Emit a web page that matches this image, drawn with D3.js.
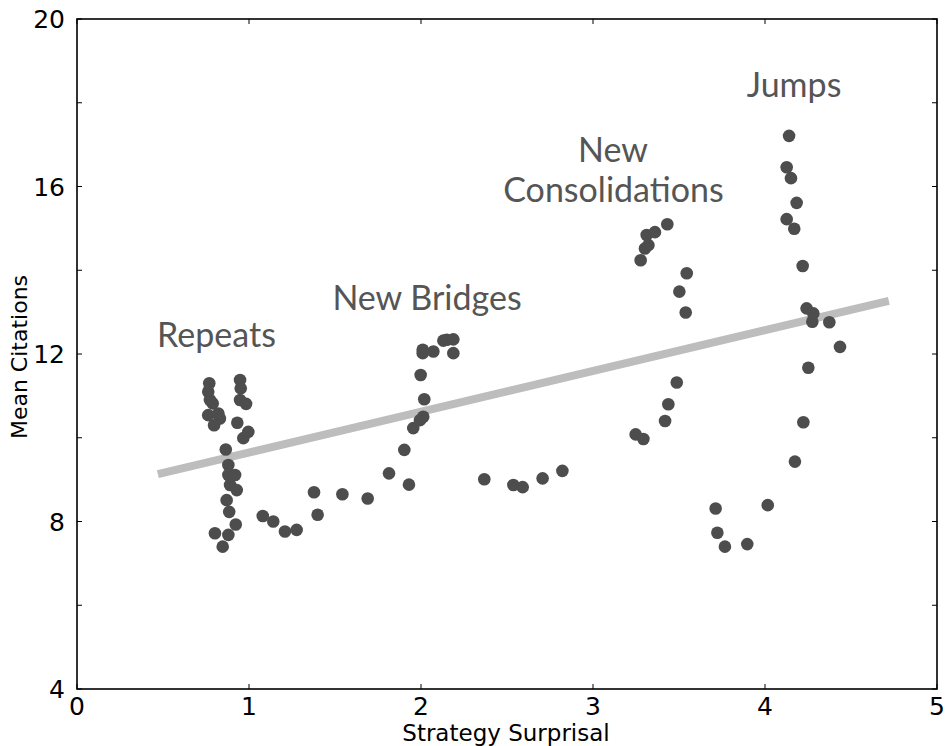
<!DOCTYPE html>
<html lang="en">
<head>
<meta charset="UTF-8">
<title>Strategy Surprisal vs Mean Citations</title>
<script src="https://d3js.org/d3.v7.min.js"></script>
<style>
    body { margin: 0; background: #fff; }
    svg { display: block; }
    .tick-label { font: 25px 'DejaVu Sans', sans-serif; fill: #000; }
    .axis-title { font: 23px 'DejaVu Sans', sans-serif; fill: #000; }
    .note { font-family: 'Lato', sans-serif; fill: #555; }
</style>
</head>
<body>
<svg width="946" height="746"></svg>
<script>
// points
var surprisal = [
    0.769, 0.763, 0.773, 0.789, 0.763, 0.822, 0.831, 0.797, 0.948, 0.952,
    0.948, 0.983, 0.932, 0.996, 0.967, 0.865, 0.880, 0.880, 0.919, 0.890,
    0.929, 0.870, 0.885, 0.923, 0.802, 0.880, 0.847,
    1.080, 1.141, 1.209, 1.277, 1.378, 1.399, 1.543, 1.690, 1.814, 1.930,
    1.903, 1.955, 1.994, 2.013, 2.019, 1.998, 2.010, 2.010, 2.072, 2.130,
    2.150, 2.188, 2.188,
    2.368, 2.537, 2.591, 2.707, 2.822,
    3.248, 3.293, 3.419, 3.438, 3.487, 3.539, 3.502, 3.545, 3.277, 3.302,
    3.322, 3.312, 3.360, 3.432,
    3.713, 3.723, 3.767, 3.897, 4.016, 4.174, 4.223, 4.252, 4.436, 4.374,
    4.275, 4.281, 4.242, 4.219, 4.170, 4.126, 4.184, 4.151, 4.126, 4.140
];
var citations = [
    11.30, 11.10, 10.90, 10.82, 10.54, 10.58, 10.46, 10.30, 11.38, 11.18,
    10.90, 10.81, 10.36, 10.14, 9.99, 9.72, 9.35, 9.11, 9.11, 8.87,
    8.75, 8.51, 8.23, 7.93, 7.72, 7.68, 7.40,
    8.13, 8.00, 7.76, 7.80, 8.70, 8.16, 8.65, 8.55, 9.15, 8.88,
    9.71, 10.23, 10.42, 10.50, 10.92, 11.50, 12.10, 12.02, 12.06, 12.32,
    12.34, 12.35, 12.02,
    9.01, 8.87, 8.82, 9.03, 9.21,
    10.08, 9.97, 10.40, 10.80, 11.32, 12.99, 13.49, 13.93, 14.24, 14.52,
    14.60, 14.84, 14.91, 15.10,
    8.31, 7.73, 7.40, 7.46, 8.39, 9.43, 10.37, 11.67, 12.17, 12.76,
    12.77, 12.97, 13.09, 14.10, 14.99, 15.22, 15.61, 16.20, 16.46, 17.21
];

// fitted line, two ends
var fitX = [0.47, 4.72];
var fitY = [9.13, 13.27];

var xTicks = [0, 1, 2, 3, 4, 5];
var yTicks = [4, 6, 8, 10, 12, 14, 16, 18, 20];
var yLabels = [4, 8, 12, 16, 20];

var noteText = ["Repeats", "New Bridges", "New", "Consolidations", "Jumps"];
var noteX = [0.811, 2.035, 3.116, 3.119, 4.169];
var noteY = [12.17, 13.05, 16.59, 15.63, 18.14];

var margin = {top: 19, right: 9, bottom: 57, left: 77},
    width = 946 - margin.left - margin.right,
    height = 746 - margin.top - margin.bottom;

var svg = d3.select("svg")
  .append("g")
    .attr("transform", "translate(" + margin.left + "," + margin.top + ")");

var x = d3.scaleLinear().domain([0, 5]).range([0, width]);
var y = d3.scaleLinear().domain([4, 20]).range([height, 0]);

// regression line
svg.append("line")
    .attr("x1", x(fitX[0])).attr("y1", y(fitY[0]))
    .attr("x2", x(fitX[1])).attr("y2", y(fitY[1]))
    .attr("stroke", "#bdbdbd")
    .attr("stroke-width", 8);

// dots
svg.selectAll(".dot")
    .data(d3.range(surprisal.length))
    .enter().append("circle")
    .attr("class", "dot")
    .attr("cx", function(i) { return x(surprisal[i]); })
    .attr("cy", function(i) { return y(citations[i]); })
    .attr("r", 6.3)
    .attr("fill", "#4d4d4d");

// notes
svg.selectAll(".note")
    .data(noteText)
    .enter().append("text")
    .attr("class", "note")
    .attr("x", function(d, i) { return x(noteX[i]); })
    .attr("y", function(d, i) { return y(noteY[i]); })
    .attr("text-anchor", "middle")
    .style("font-size", "34px")
    .text(function(d) { return d; });

// ticks on all four sides, pointing in
var tl = 5;
svg.selectAll(".xt-b").data(xTicks).enter().append("line")
    .attr("x1", function(d) { return x(d); }).attr("x2", function(d) { return x(d); })
    .attr("y1", height).attr("y2", height - tl)
    .attr("stroke", "#000").attr("stroke-width", 1);
svg.selectAll(".xt-t").data(xTicks).enter().append("line")
    .attr("x1", function(d) { return x(d); }).attr("x2", function(d) { return x(d); })
    .attr("y1", 0).attr("y2", tl)
    .attr("stroke", "#000").attr("stroke-width", 1);
svg.selectAll(".yt-l").data(yTicks).enter().append("line")
    .attr("y1", function(d) { return y(d); }).attr("y2", function(d) { return y(d); })
    .attr("x1", 0).attr("x2", tl)
    .attr("stroke", "#000").attr("stroke-width", 1);
svg.selectAll(".yt-r").data(yTicks).enter().append("line")
    .attr("y1", function(d) { return y(d); }).attr("y2", function(d) { return y(d); })
    .attr("x1", width).attr("x2", width - tl)
    .attr("stroke", "#000").attr("stroke-width", 1);

// frame
svg.append("rect")
    .attr("width", width).attr("height", height)
    .attr("fill", "none")
    .attr("stroke", "#000")
    .attr("stroke-width", 1.6);

// tick labels
svg.selectAll(".xl").data(xTicks).enter().append("text")
    .attr("class", "tick-label")
    .attr("x", function(d) { return x(d); })
    .attr("y", height + 26)
    .attr("text-anchor", "middle")
    .text(function(d) { return d; });
svg.selectAll(".yl").data(yLabels).enter().append("text")
    .attr("class", "tick-label")
    .attr("x", -12)
    .attr("y", function(d) { return y(d); })
    .attr("dy", "0.36em")
    .attr("text-anchor", "end")
    .text(function(d) { return d; });

// axis titles
svg.append("text")
    .attr("class", "axis-title")
    .attr("x", width / 2 - 1)
    .attr("y", height + 52)
    .attr("text-anchor", "middle")
    .text("Strategy Surprisal");
svg.append("text")
    .attr("class", "axis-title")
    .style("font-size", "22px")
    .attr("transform", "translate(-50," + (height / 2 + 3) + ") rotate(-90)")
    .attr("text-anchor", "middle")
    .text("Mean Citations");
</script>
</body>
</html>
